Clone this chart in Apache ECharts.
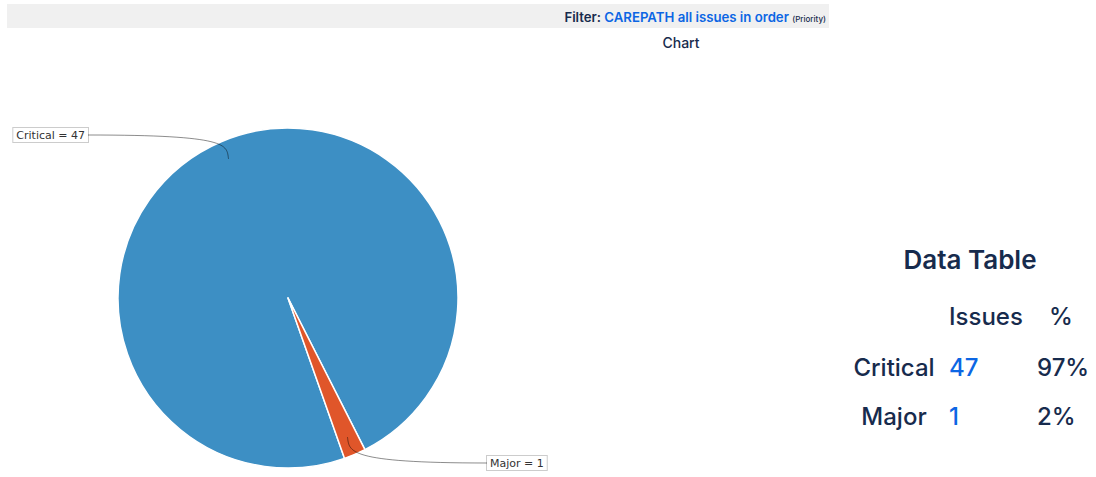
<!DOCTYPE html>
<html>
<head>
<meta charset="utf-8">
<script src="https://cdn.jsdelivr.net/npm/echarts@6/dist/echarts.min.js"></script>
<style>
html,body{margin:0;padding:0;background:#fff;}
#chart{width:1096px;height:477px;}
</style>
</head>
<body>
<div id="chart"></div>
<script>
// ---- data ----
var categories = ['Critical', 'Major'];
var issueCounts = [47, 1];
var filterName = 'CAREPATH all issues in order';
var groupField = 'Priority';
var tableHeaders = ['Issues', '%'];

// ---- layout / style ----
var PIE_CENTER = [288, 298];
var PIE_RADIUS = 170;
var START_ANGLE = -70.6;
var sliceColors = ['#3d8fc4', '#e0562a'];
// label link points (where the connector meets the label box)
var labelAnchors = [{x: 88, y: 135, align: 'right'}, {x: 487, y: 463, align: 'left'}];
var DARK = '#172b4d';
var LINK = '#0c66e4';
var UI_FONT = 'Inter, Roboto, "Noto Sans", sans-serif';
var LINE_COLOR = 'rgba(0,0,0,0.45)';

var total = issueCounts.reduce(function (a, b) { return a + b; }, 0);

function midAngle(idx) {
  var cum = 0;
  for (var i = 0; i < idx; i++) cum += issueCounts[i];
  var a = START_ANGLE - 360 * cum / total - 180 * issueCounts[idx] / total;
  return a * Math.PI / 180;
}
function polar(a, r) {
  return [PIE_CENTER[0] + Math.cos(a) * r, PIE_CENTER[1] - Math.sin(a) * r];
}

var chart = echarts.init(document.getElementById('chart'), null, {renderer: 'svg'});

var graphics = [
  {type: 'rect', shape: {x: 7, y: 4, width: 822, height: 24}, style: {fill: '#f0f0f0'}, silent: true},
  {type: 'text', x: 826, y: 17, style: {
    text: '{a|Filter: }{b|' + filterName + '} {c|(' + groupField + ')}',
    align: 'right', verticalAlign: 'middle',
    rich: {
      a: {fontFamily: UI_FONT, fontSize: 13.2, fontWeight: 600, fill: DARK},
      b: {fontFamily: UI_FONT, fontSize: 13.2, fontWeight: 600, fill: LINK},
      c: {fontFamily: UI_FONT, fontSize: 8, fontWeight: 500, fill: DARK, padding: [3, 0, 0, 0]}
    }
  }},
  {type: 'text', x: 681, y: 42, style: {text: 'Chart', fontFamily: UI_FONT, fontSize: 14, fontWeight: 500, fill: DARK, align: 'center', verticalAlign: 'middle'}},
  {type: 'text', x: 970, y: 259, style: {text: 'Data Table', fontFamily: UI_FONT, fontSize: 26, fontWeight: 600, fill: DARK, align: 'center', verticalAlign: 'middle'}},
  {type: 'text', x: 949, y: 316, style: {text: tableHeaders[0], fontFamily: UI_FONT, fontSize: 24, fontWeight: 500, fill: DARK, align: 'left', verticalAlign: 'middle'}},
  {type: 'text', x: 1061, y: 316, style: {text: tableHeaders[1], fontFamily: UI_FONT, fontSize: 24, fontWeight: 500, fill: DARK, align: 'center', verticalAlign: 'middle'}}
];
categories.forEach(function (name, i) {
  var y = 367 + i * 49;
  var pct = Math.floor(issueCounts[i] / total * 100) + '%';
  graphics.push({type: 'text', x: 894, y: y, style: {text: name, fontFamily: UI_FONT, fontSize: 24, fontWeight: 500, fill: DARK, align: 'center', verticalAlign: 'middle'}});
  graphics.push({type: 'text', x: 949, y: y, style: {text: String(issueCounts[i]), fontFamily: UI_FONT, fontSize: 24, fontWeight: 500, fill: LINK, align: 'left', verticalAlign: 'middle'}});
  graphics.push({type: 'text', x: 1037, y: y, style: {text: pct, fontFamily: UI_FONT, fontSize: 24, fontWeight: 500, fill: DARK, align: 'left', verticalAlign: 'middle'}});
});
// curved label connectors (JFreeChart-style), drawn over the pie from each slice's mid angle
categories.forEach(function (name, i) {
  var a = midAngle(i);
  var inner = polar(a, PIE_RADIUS * 0.89);
  var edge = polar(a, PIE_RADIUS * 0.98);
  var t = labelAnchors[i];
  var dir = t.x < PIE_CENTER[0] ? -1 : 1;
  graphics.push({
    type: 'bezierCurve', z: 10, silent: true,
    shape: {x1: t.x, y1: t.y, cpx1: edge[0] - dir * 8, cpy1: t.y, cpx2: edge[0] - dir * 4, cpy2: edge[1], x2: inner[0], y2: inner[1]},
    style: {stroke: LINE_COLOR, lineWidth: 1, fill: null}
  });
});

var option = {
  animation: false,
  backgroundColor: '#ffffff',
  graphic: graphics,
  series: [{
    type: 'pie',
    center: PIE_CENTER,
    radius: PIE_RADIUS,
    startAngle: START_ANGLE,
    clockwise: true,
    avoidLabelOverlap: false,
    z: 2,
    data: categories.map(function (n, i) {
      return {name: n, value: issueCounts[i], itemStyle: {color: sliceColors[i]}};
    }),
    itemStyle: {borderColor: '#ffffff', borderWidth: 1.5},
    emphasis: {disabled: true},
    label: {
      show: true,
      formatter: '{b} = {c}',
      fontFamily: '"DejaVu Sans", sans-serif',
      fontSize: 11,
      color: '#333333',
      backgroundColor: '#ffffff',
      borderColor: '#cccccc',
      borderWidth: 1,
      padding: [2, 3, 1, 3]
    },
    labelLine: {show: false},
    labelLayout: function (params) {
      var anc = labelAnchors[params.dataIndex];
      return {x: anc.x, y: anc.y, align: anc.align, verticalAlign: 'middle'};
    }
  }]
};
chart.setOption(option);
</script>
</body>
</html>
